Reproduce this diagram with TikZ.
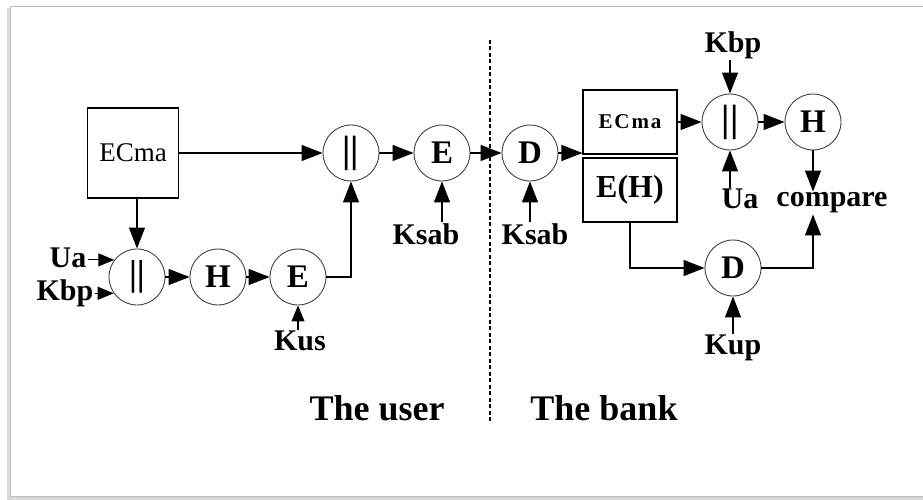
\documentclass[tikz,border=0pt]{standalone}
\usepackage{fontspec}
\setmainfont{Liberation Serif}
\usetikzlibrary{arrows.meta}

\tikzset{
  op/.style={circle, draw=black!75, line width=0.9pt, minimum size=56pt, inner sep=0pt,
    font=\fontsize{33}{33}\selectfont\bfseries},
  keylab/.style={inner sep=1pt, font=\fontsize{30}{30}\selectfont\bfseries},
  msgbox/.style={draw, line width=1.1pt, inner sep=0pt},
  flow/.style={line width=1.2pt, -{Triangle[length=21pt,width=16pt]}},
  shortflow/.style={line width=1.2pt, -{Triangle[length=16pt,width=13pt]}}
}

\begin{document}
\begin{tikzpicture}[x=1pt, y=-1pt, line join=miter]
  \useasboundingbox (0,0) rectangle (923,500);

  % Frame with soft shadow
  \draw[gray!30, line width=3pt] (8,8) -- (8,498) -- (923,498);
  \draw[gray!50, line width=0.8pt] (923,6.5) -- (10,6.5) -- (10,496) -- (923,496);

  % The user side
  \node[msgbox, minimum width=91pt, minimum height=90pt,
        font=\fontsize{27}{27}\selectfont] (ecmaU) at (133,153) {ECma};
  \node[op, font=\fontsize{38}{38}\selectfont\bfseries] (orU) at (351,153) {||};
  \node[op] (eU) at (442,153) {E};
  \node[op, font=\fontsize{36}{36}\selectfont\bfseries] (orL) at (137,277) {||};
  \node[op] (hL) at (218,277) {H};
  \node[op] (eL) at (298,277) {E};

  \node[keylab] (uaL) at (68,258) {Ua};
  \node[keylab] (kbpL) at (65,293) {Kbp};
  \node[keylab, anchor=north] (kus) at (300,330) {Kus};
  \node[keylab, anchor=north] (ksabU) at (426,222) {Ksab};

  % Dotted boundary
  \draw[line width=2pt, dash pattern=on 4pt off 2.5pt] (490,40) -- (490,422);

  % The bank side
  \node[op] (dB) at (530,153) {D};
  \node[keylab, anchor=north] (ksabB) at (535,222) {Ksab};
  \node[msgbox, minimum width=94pt, minimum height=64pt,
        font=\fontsize{21}{21}\selectfont\bfseries\addfontfeature{LetterSpace=9}] (ecmaB) at (630,122) {ECma};
  \node[msgbox, minimum width=94pt, minimum height=64pt,
        font=\fontsize{32}{32}\selectfont\bfseries] (ehB) at (630,190) {E(H)};
  \node[op, font=\fontsize{38}{38}\selectfont\bfseries] (orB) at (730,122) {||};
  \node[op] (hB) at (813,122) {H};
  \node[op] (dB2) at (733,268) {D};

  \node[keylab, anchor=south] (kbpB) at (733,60) {Kbp};
  \node[keylab, anchor=north] (uaB) at (740,188) {Ua};
  \node[keylab] (cmp) at (832,203) {compare};
  \node[keylab, anchor=north] (kup) at (733,334) {Kup};

  % Part labels
  \node[font=\fontsize{36}{36}\selectfont\bfseries] (user) at (377,408) {The user};
  \node[font=\fontsize{36}{36}\selectfont\bfseries] (bank) at (604,408) {The bank};

  % User connectors
  \draw[flow] (ecmaU.east) -- (orU.west);
  \draw[flow] (ecmaU.south -| orL) -- (orL.north);
  \draw[shortflow] (uaL.east |- orL.143) -- (orL.143);
  \draw[shortflow] (kbpL.east |- orL.215) -- (orL.215);
  \draw[flow] (orL) -- (hL);
  \draw[flow] (hL) -- (eL);
  \draw[shortflow] (kus.north -| eL) -- (eL.south);
  \draw[flow] (eL.east) -| (orU.south);
  \draw[flow] (orU) -- (eU);
  \draw[flow] (ksabU.north -| eU) -- (eU.south);
  \draw[flow] (eU) -- (dB);

  % Bank connectors
  \draw[flow] (ksabB.north -| dB) -- (dB.south);
  \draw[flow] (dB.east) -- (dB.east -| ecmaB.west);
  \draw[flow] (ecmaB.east) -- (orB.west);
  \draw[flow] (kbpB.south -| orB) -- (orB.north);
  \draw[flow] (uaB.north -| orB) -- (orB.south);
  \draw[flow] (orB) -- (hB);
  \draw[flow] (hB.south) -- (hB.south |- cmp.north);
  \draw[flow] (ehB.south) |- (dB2.west);
  \draw[flow] (kup.north -| dB2) -- (dB2.south);
  \draw[flow] (dB2.east) -| (hB.south |- cmp.south);
\end{tikzpicture}
\end{document}
